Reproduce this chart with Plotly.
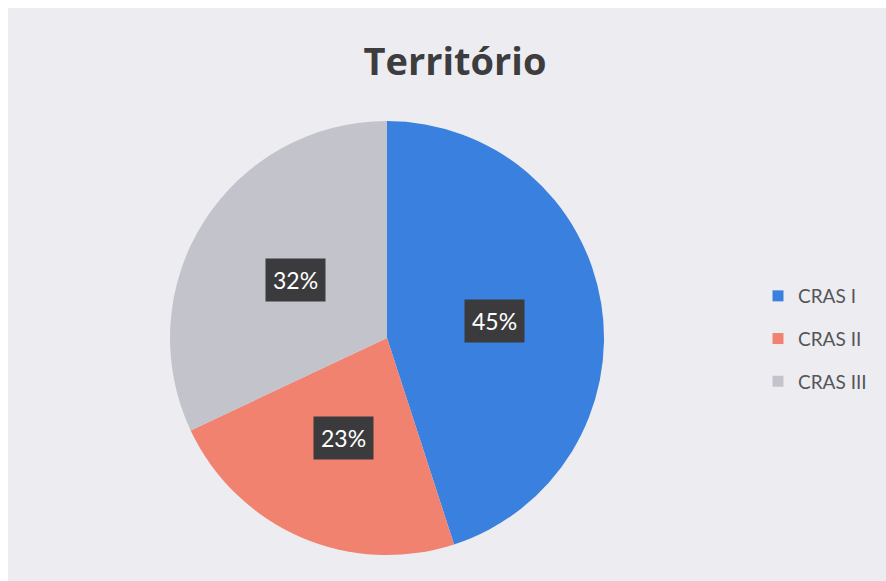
import math
import plotly.graph_objects as go

# figure sits at (8, 8) on the page and runs to the right/bottom edges
OFF = 8
W, H = 878, 573

labels = ["CRAS I", "CRAS II", "CRAS III"]
values = [45, 23, 32]
colors = ["#3a80de", "#f0826f", "#c3c3cc"]

# pie geometry in page pixels
cx, cy, R = 387, 338, 217


def fx(X):
    return (X - OFF) / W


def fy(Y):
    return 1 - (Y - OFF) / H


fig = go.Figure()
fig.add_trace(go.Pie(
    labels=labels,
    values=values,
    sort=False,
    direction="clockwise",
    rotation=0,
    marker=dict(colors=colors, line=dict(width=0)),
    textinfo="none",
    showlegend=False,
    domain=dict(x=[fx(cx - R), fx(cx + R)], y=[fy(cy + R), fy(cy - R)]),
))

# legend entries (square markers, Excel style spacing)
for lab, col in zip(labels, colors):
    fig.add_trace(go.Scatter(
        x=[None], y=[None], mode="markers", name=lab, legendgroup=lab,
        marker=dict(symbol="square", size=11, color=col),
    ))

# percentage labels in dark boxes, placed at mid-angle of each slice
total = sum(values)
cum = 0
for v in values:
    mid = (cum + v / 2) / total * 2 * math.pi
    cum += v
    lx = cx + 0.5 * R * math.sin(mid)
    ly = cy - 0.5 * R * math.cos(mid)
    fig.add_annotation(
        x=fx(lx), y=fy(ly), xref="paper", yref="paper",
        xanchor="center", yanchor="middle",
        text=f"{round(v / total * 100)}%", showarrow=False,
        font=dict(family="Lato", size=23, color="white"),
        bgcolor="#3b3b3e", borderpad=7,
    )

fig.update_layout(
    width=W, height=H,
    margin=dict(l=0, r=0, t=0, b=0),
    paper_bgcolor="#ededf1",
    plot_bgcolor="rgba(0,0,0,0)",
    title=dict(text="<b>Território</b>", x=fx(455), xanchor="center", y=fy(62), yanchor="middle",
               font=dict(family="Open Sans", size=38, color="#3d3d40")),
    xaxis=dict(visible=False),
    yaxis=dict(visible=False),
    legend=dict(x=fx(758), y=fy(339), xanchor="left", yanchor="middle", traceorder="grouped",
                tracegroupgap=15, bgcolor="rgba(0,0,0,0)",
                font=dict(family="Lato", size=19, color="#555558"), itemwidth=30),
)

fig.write_html("out.html", post_script="document.body.style.margin='8px 0 0 8px';document.body.style.overflow='hidden';")
